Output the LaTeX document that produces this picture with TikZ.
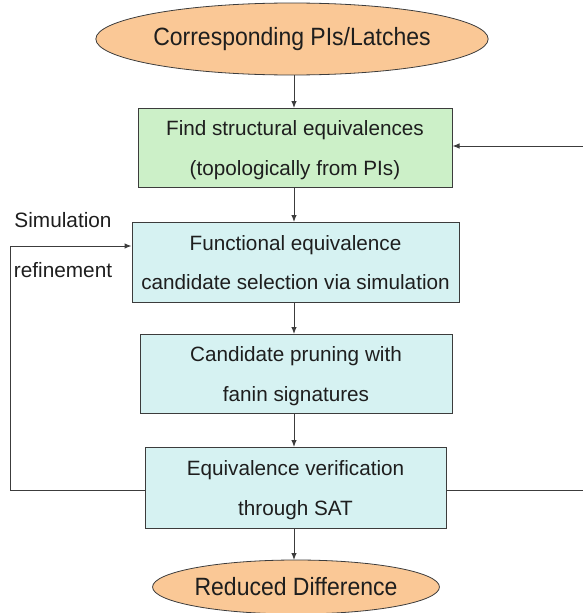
\documentclass[tikz,border=0pt]{standalone}
\usepackage{fontspec}
\setmainfont{Liberation Sans}
\newfontfamily\ovalfont[FakeStretch=0.92]{Liberation Sans}
\usetikzlibrary{shapes.geometric,arrows.meta}
\definecolor{peach}{RGB}{250,200,150}
\definecolor{mint}{RGB}{204,240,200}
\definecolor{aqua}{RGB}{214,242,242}
\definecolor{edge}{RGB}{60,60,60}
\definecolor{ink}{RGB}{30,30,30}
% two centred lines of box text, spaced by the struts of the current font
\newcommand{\twoline}[2]{\begin{tabular}{@{}c@{}}#1\\#2\end{tabular}}
\tikzset{
  terminal/.style={ellipse, draw=edge, line width=0.8pt, fill=peach, inner sep=0pt,
    text=ink, font=\ovalfont\fontsize{25}{28}\selectfont},
  stepbox/.style={rectangle, draw=edge, line width=1pt, inner sep=0pt,
    text=ink, font=\fontsize{20.7}{39.5}\selectfont},
  flow/.style={draw=edge, line width=1pt, -{Latex[length=7pt,width=5.5pt]}},
  link/.style={draw=edge, line width=1pt},
  note/.style={text=ink, font=\fontsize{20.8}{24}\selectfont, inner sep=0pt}
}
\begin{document}
\begin{tikzpicture}[x=1pt,y=-1pt]
\useasboundingbox (0,0) rectangle (583,613);

\node[terminal, minimum width=310pt, minimum height=72pt] (start) at (292,39) {Corresponding PIs/Latches};
\node[stepbox, fill=mint, minimum width=314pt, minimum height=79pt] (find) at (295,147.5)
  {\twoline{Find structural equivalences}{(topologically from PIs)}};
\node[stepbox, fill=aqua, minimum width=327pt, minimum height=80pt] (cand) at (295.5,262)
  {\twoline{Functional equivalence}{candidate selection via simulation}};
\node[stepbox, fill=aqua, minimum width=312pt, minimum height=79pt] (prune) at (296,373.5)
  {\twoline{Candidate pruning with}{fanin signatures}};
\node[stepbox, fill=aqua, minimum width=301pt, minimum height=81pt] (verify) at (295.5,487.5)
  {\twoline{Equivalence verification}{through SAT}};
\node[terminal, minimum width=228pt, minimum height=54pt] (done) at (296,587) {Reduced Difference};

\node[note] (simA) at (63,220) {Simulation};
\node[note] (simB) at (63,270) {refinement};

\coordinate (leftbot) at (10,490);
\coordinate (lefttop) at (10,246);
\coordinate (rightbot) at (583,490);
\coordinate (righttop) at (583,146);

% main downward flow
\draw[flow] (294,75) -- (294,108);
\draw[flow] (294,187) -- (294,222);
\draw[flow] (294,302) -- (294,334);
\draw[flow] (294,413) -- (294,447);
\draw[flow] (294,528) -- (294,560);

% simulation refinement loop
\draw[link] (verify.west |- leftbot) -- (leftbot) -- (lefttop);
\draw[flow] (lefttop) -- (cand.west |- lefttop);

% outer loop back to structural step
\draw[link] (verify.east |- rightbot) -- (rightbot);
\draw[flow] (righttop) -- (find.east |- righttop);
\end{tikzpicture}
\end{document}
